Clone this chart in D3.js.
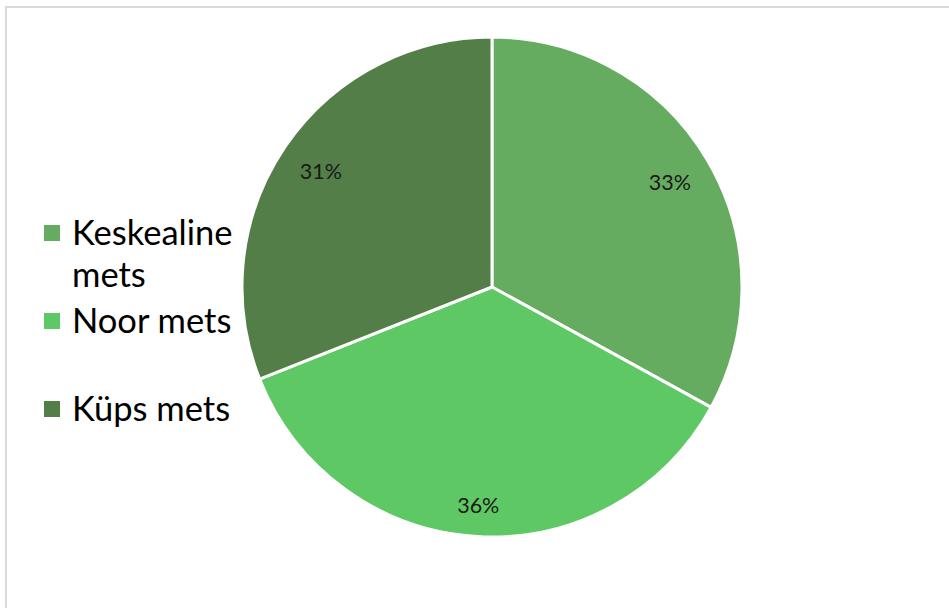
<!DOCTYPE html>
<html><head><meta charset="utf-8">
<script src="https://cdn.jsdelivr.net/npm/d3@7"></script>
<style>html,body{margin:0;padding:0;background:#fff;}svg{display:block;}</style>
</head><body>
<svg id="chart" width="949" height="608"></svg>
<script>
const categories = ["Keskealine mets", "Noor mets", "Küps mets"];
const values = [33, 36, 31];
const labels = ["33%", "36%", "31%"];
const colors = ["#65AB60", "#5EC864", "#537E47"];

const svg = d3.select("#chart");
const W = 949, H = 608;
svg.append("rect").attr("x", 6).attr("y", 7).attr("width", W + 10).attr("height", H + 10)
  .attr("fill", "#fff").attr("stroke", "#d9d9d9").attr("stroke-width", 2);

const cx = 492, cy = 287, r = 250;
const pie = d3.pie().sort(null).value(d => d)(values);
const arc = d3.arc().innerRadius(0).outerRadius(r);
const g = svg.append("g").attr("transform", `translate(${cx},${cy})`);
g.selectAll("path").data(pie).join("path")
  .attr("d", arc).attr("fill", (d, i) => colors[i])
  .attr("stroke", "#fff").attr("stroke-width", 3).attr("stroke-linejoin", "round");

const font = "Lato, 'Open Sans', sans-serif";
const fs = 21.5;
const inset = 21;
g.selectAll("text.lbl").data(pie).join("text").attr("class", "lbl")
  .attr("text-anchor", "middle").attr("dominant-baseline", "central")
  .attr("font-family", font).attr("font-size", fs).attr("fill", "#1a1a1a")
  .text((d, i) => labels[i])
  .each(function(d) {
    const w = this.getComputedTextLength();
    const a = w / 2, b = 0.37 * fs;
    const th = (d.startAngle + d.endAngle) / 2;
    const s = Math.abs(Math.sin(th)), c = Math.abs(Math.cos(th));
    const R = r - inset;
    const p = a * s + b * c;
    const t = -p + Math.sqrt(p * p - (a * a + b * b - R * R));
    d3.select(this).attr("x", Math.sin(th) * t).attr("y", -Math.cos(th) * t);
  });

// legend
const leg = svg.append("g");
const legendLines = [["Keskealine", "mets"], ["Noor mets"], ["Küps mets"]];
const legBase = [245, 333, 421];
const lineGap = 42;
legendLines.forEach((lines, i) => {
  leg.append("rect").attr("x", 44).attr("y", legBase[i] - 20).attr("width", 16).attr("height", 16)
    .attr("fill", colors[i]);
  lines.forEach((t, j) => {
    leg.append("text").attr("x", 72).attr("y", legBase[i] + j * lineGap)
      .attr("font-family", font).attr("font-size", 34.5).attr("fill", "#000").text(t);
  });
});
</script>
</body></html>
